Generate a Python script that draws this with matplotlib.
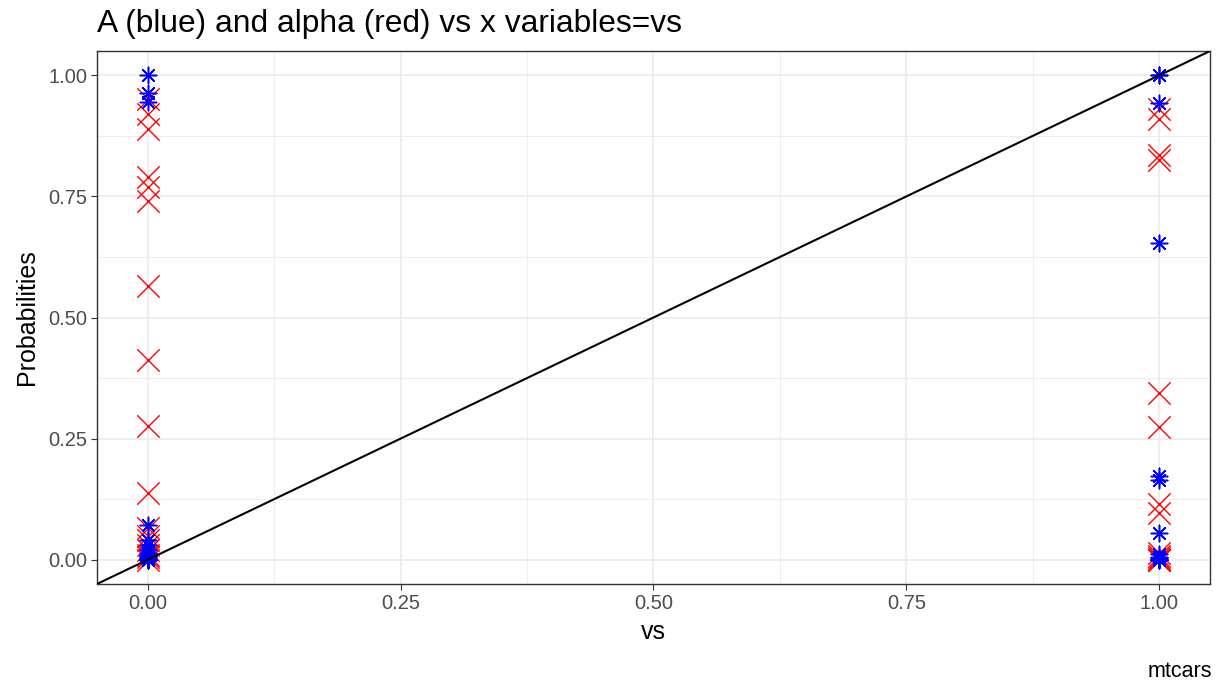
import matplotlib.pyplot as plt

plt.rcParams['font.family'] = ['Liberation Sans', 'DejaVu Sans']

# Predicted probabilities grouped by vs (0 = 18 cars, 1 = 14 cars)
vs0_alpha = [0.95, 0.92, 0.89, 0.79, 0.77, 0.74, 0.565, 0.412, 0.276, 0.138,
             0.065, 0.05, 0.04, 0.03, 0.02, 0.01, 0.005, 0.0]
vs0_A = [1.0, 0.963, 0.945, 0.072, 0.04, 0.03, 0.02, 0.015, 0.01, 0.008,
         0.005, 0.003, 0.002, 0.001, 0.0, 0.0, 0.0, 0.0]
vs1_alpha = [0.93, 0.91, 0.835, 0.825, 0.345, 0.275, 0.115, 0.097, 0.015,
             0.008, 0.003, 0.0, 0.0, 0.0]
vs1_A = [1.0, 1.0, 0.942, 0.654, 0.172, 0.165, 0.055, 0.012, 0.006, 0.003,
         0.001, 0.0, 0.0, 0.0]

x_alpha = [0.0] * len(vs0_alpha) + [1.0] * len(vs1_alpha)
y_alpha = vs0_alpha + vs1_alpha
x_A = [0.0] * len(vs0_A) + [1.0] * len(vs1_A)
y_A = vs0_A + vs1_A

ticks = [0.0, 0.25, 0.5, 0.75, 1.0]
tick_labels = ['0.00', '0.25', '0.50', '0.75', '1.00']
minor_ticks = [0.125, 0.375, 0.625, 0.875]

fig = plt.figure(figsize=(12.2, 6.84), dpi=100)
ax = fig.add_axes([0.0795, 0.1462, 0.9123, 0.7792])

ax.scatter(x_alpha, y_alpha, marker='x', s=260, color='red', linewidths=1.0, zorder=3)
ax.scatter(x_A, y_A, marker=(8, 2, 0), s=140, color='blue', linewidths=1.1, zorder=4)
ax.axline((0, 0), slope=1, color='black', lw=1.5, zorder=5)

ax.set_xticks(ticks)
ax.set_xticklabels(tick_labels)
ax.set_yticks(ticks)
ax.set_yticklabels(tick_labels)
ax.set_xticks(minor_ticks, minor=True)
ax.set_yticks(minor_ticks, minor=True)
ax.set_xlim(-0.05, 1.05)
ax.set_ylim(-0.05, 1.05)
ax.grid(True, which='major', color='#ebebeb', lw=1.2, zorder=0)
ax.grid(True, which='minor', color='#ebebeb', lw=0.6, zorder=0)
ax.set_axisbelow(True)
ax.tick_params(which='major', length=4, color='#333333', labelsize=14.5,
               labelcolor='#4d4d4d', pad=3)
ax.tick_params(which='minor', length=0)
for sp in ax.spines.values():
    sp.set_color('#333333')
    sp.set_linewidth(1.0)

ax.set_xlabel('vs', fontsize=18, labelpad=5)
ax.set_ylabel('Probabilities', fontsize=18, labelpad=7)
fig.text(0.0795, 1 - 32 / 684, 'A (blue) and alpha (red) vs x variables=vs',
         ha='left', va='baseline', fontsize=22.9)
fig.text(0.9934, 1 - 677 / 684, 'mtcars', ha='right', va='baseline', fontsize=15.5)

fig.savefig('out.png', dpi=100)
